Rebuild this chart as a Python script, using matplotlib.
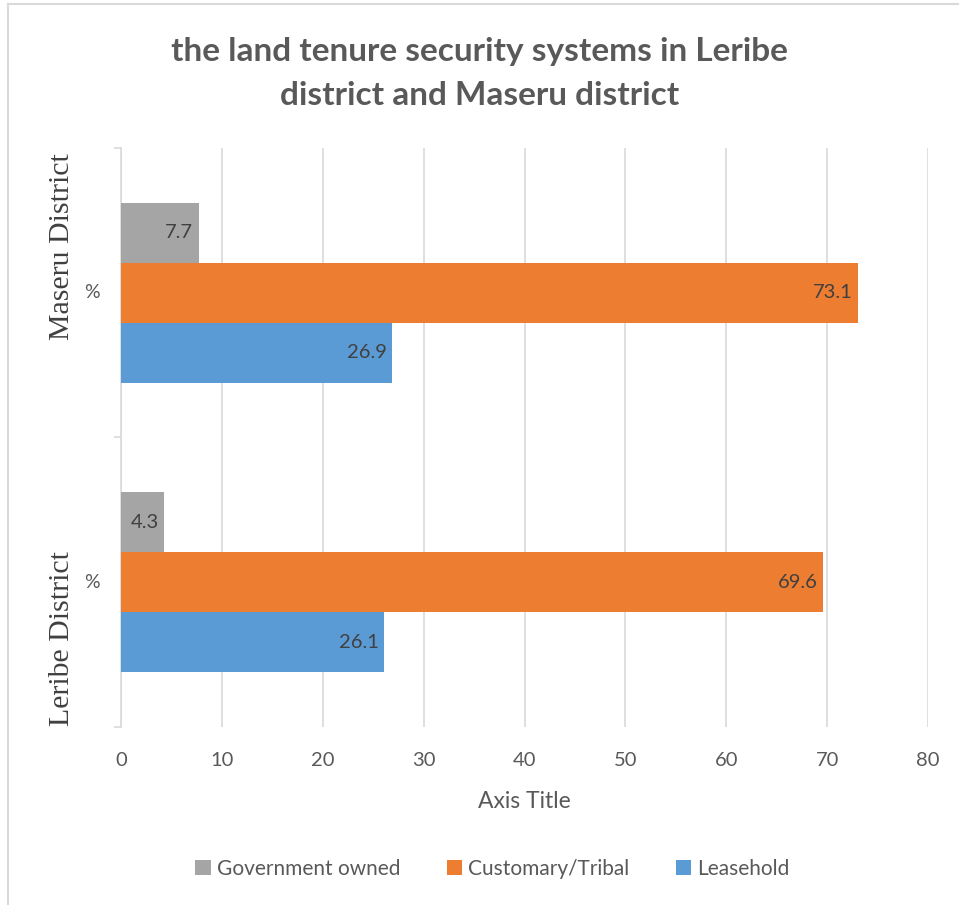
import matplotlib.pyplot as plt
from matplotlib.lines import Line2D

districts = ['Leribe District', 'Maseru District']
series = ['Government owned', 'Customary/Tribal', 'Leasehold']
gov = [4.3, 7.7]
cust = [69.6, 73.1]
lease = [26.1, 26.9]
colors = ['#a5a5a5', '#ed7d31', '#5b9bd5']

fig = plt.figure(figsize=(9.59, 9.05), dpi=100)
ax = fig.add_axes([0.1262, 0.1967, 0.8415, 0.6398])

h = 0.207
offsets = [h, 0, -h]
for vals, off, col, name in zip([gov, cust, lease], offsets, colors, series):
    ypos = [i + off for i in range(len(districts))]
    ax.barh(ypos, vals, height=h, color=col, label=name, zorder=3)
    for y, v in zip(ypos, vals):
        ax.annotate(f'{v}', (v, y), xytext=(-4, 0), textcoords='offset points',
                    ha='right', va='center', fontsize=14.5, color='#404040',
                    family='Lato', zorder=4)

ax.set_xlim(0, 80)
ax.set_ylim(-0.5, 1.5)
ax.set_xticks(range(0, 81, 10))
ax.tick_params(axis='x', length=0, labelsize=14.5, labelcolor='#595959', pad=18)
for t in ax.get_xticklabels():
    t.set_family('Lato')
ax.xaxis.grid(True, color='#d9d9d9', linewidth=1.2, zorder=0)
ax.set_yticks([-0.5, 0.5, 1.5])
ax.set_yticklabels([])
ax.tick_params(axis='y', length=5, color='#d9d9d9', width=1.2)
for s in ['top', 'right', 'bottom']:
    ax.spines[s].set_visible(False)
ax.spines['left'].set_color('#d9d9d9')
ax.spines['left'].set_linewidth(1.2)

ax.set_xlabel('Axis Title', fontsize=16.5, color='#595959', family='Lato', labelpad=16)

# multi-level category labels
for i, name in enumerate(districts):
    ax.text(-0.036, i, '%', transform=ax.get_yaxis_transform(), ha='center', va='center',
            fontsize=14, color='#595959', family='Lato')
lab_y = [-0.196, 1.158]
for y, name in zip(lab_y, districts):
    ax.text(-0.073, y, name, transform=ax.get_yaxis_transform(), ha='center', va='center',
            rotation=90, fontsize=21.5, color='#404040', family='Liberation Serif')

fig.text(0.5, 0.9188, 'the land tenure security systems in Leribe\ndistrict and Maseru district',
         ha='center', va='center', fontsize=24, fontweight='bold', color='#595959',
         family='Lato', linespacing=1.6)

ax.legend(loc='center', bbox_to_anchor=(0.5136, 0.04), bbox_transform=fig.transFigure,
          ncol=3, frameon=False, handlelength=0.75, handleheight=0.75,
          handletextpad=0.3, columnspacing=2.2, prop={'family': 'Lato', 'size': 15},
          labelcolor='#595959')

# chart border (top and left edges)
fig.add_artist(Line2D([0.008, 1.0], [0.9955, 0.9955], color='#d9d9d9', lw=1.5,
                      transform=fig.transFigure))
fig.add_artist(Line2D([0.008, 0.008], [0.0, 0.9955], color='#d9d9d9', lw=1.5,
                      transform=fig.transFigure))

fig.savefig('out.png', dpi=100, facecolor='white')
